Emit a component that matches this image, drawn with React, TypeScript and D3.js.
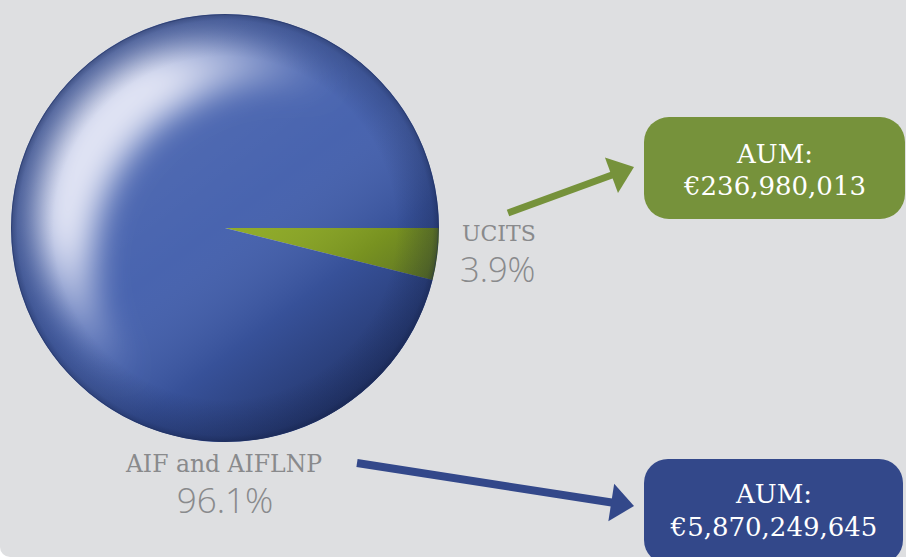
import React from 'react';
import * as d3 from 'd3';

const categories = ['UCITS', 'AIF and AIFLNP'];
const shares = [3.9, 96.1];
const shareLabels = ['3.9%', '96.1%'];
const aumLabels = ['€236,980,013', '€5,870,249,645'];
const sliceColors = ['#8ba81d', '#3f5cab'];
const boxColors = ['#76923b', '#33488a'];

const W = 906;
const H = 557;
const cx = 225;
const cy = 228;
const R = 214;

function Arrow({ x1, y1, x2, y2, width, headLen, headHalf, color }) {
  const dx = x2 - x1;
  const dy = y2 - y1;
  const len = Math.sqrt(dx * dx + dy * dy);
  const ux = dx / len;
  const uy = dy / len;
  const bx = x2 - ux * headLen;
  const by = y2 - uy * headLen;
  const px = -uy;
  const py = ux;
  const pts = [
    [x2, y2],
    [bx + px * headHalf, by + py * headHalf],
    [bx - px * headHalf, by - py * headHalf],
  ];
  return (
    <g>
      <line x1={x1} y1={y1} x2={bx + ux * 2} y2={by + uy * 2} stroke={color} strokeWidth={width} />
      <polygon points={pts.map((p) => p.join(',')).join(' ')} fill={color} />
    </g>
  );
}

export default function App() {
  const pie = d3
    .pie<number>()
    .sort(null)
    .value((d) => d)
    .startAngle(Math.PI / 2)
    .endAngle(Math.PI / 2 + Math.PI * 2);
  const arcs = pie(shares);
  const arc = d3.arc<d3.PieArcDatum<number>>().innerRadius(0).outerRadius(R);

  const serif = '"DejaVu Serif", serif';
  const sans = '"Open Sans", sans-serif';
  const gray = '#898a8c';

  return (
    <svg width={W} height={H} style={{ position: 'absolute', left: 0, top: 0 }}>
      <defs>
        <clipPath id="pieClip">
          <circle cx={cx} cy={cy} r={R} />
        </clipPath>
        <filter id="blur" filterUnits="userSpaceOnUse" x={0} y={0} width={W} height={H}>
          <feGaussianBlur stdDeviation="16" />
        </filter>
        <radialGradient
          id="hiFade"
          gradientUnits="userSpaceOnUse"
          cx={cx - 0.55 * R}
          cy={cy - 0.35 * R}
          r={1.1 * R}
        >
          <stop offset="0" stopColor="#fff" />
          <stop offset="0.4" stopColor="#fff" />
          <stop offset="1" stopColor="#000" />
        </radialGradient>
        <mask id="crescent" maskUnits="userSpaceOnUse" x="0" y="0" width={W} height={H}>
          <circle cx={cx - 0.05 * R} cy={cy - 0.05 * R} r={0.84 * R} fill="url(#hiFade)" />
          <circle cx={cx + 0.22 * R} cy={cy + 0.16 * R} r={0.84 * R} fill="#000" />
        </mask>
        <linearGradient id="shade" x1="0.2" y1="0.15" x2="0.8" y2="0.95">
          <stop offset="0" stopColor="#ffffff" stopOpacity="0.12" />
          <stop offset="0.45" stopColor="#ffffff" stopOpacity="0.05" />
          <stop offset="0.7" stopColor="#0b1433" stopOpacity="0.15" />
          <stop offset="1" stopColor="#0b1433" stopOpacity="0.58" />
        </linearGradient>
        <radialGradient id="rim" cx="0.5" cy="0.5" r="0.5">
          <stop offset="0.8" stopColor="#0b1433" stopOpacity="0" />
          <stop offset="0.97" stopColor="#0b1433" stopOpacity="0.22" />
          <stop offset="1" stopColor="#0b1433" stopOpacity="0.4" />
        </radialGradient>
      </defs>

      <path d={`M0,0H${W}V${H}H10A10,10 0 0 1 0,${H - 10}Z`} fill="#dedfe1" />

      <g transform={`translate(${cx},${cy})`}>
        {arcs.map((a, k) => (
          <path key={categories[k]} d={arc(a)} fill={sliceColors[k]} />
        ))}
      </g>
      <g clipPath="url(#pieClip)">
        <circle cx={cx} cy={cy} r={R} fill="url(#shade)" />
        <g filter="url(#blur)">
          <rect x={0} y={0} width={W} height={H} fill="#e8eaf8" opacity={0.95} mask="url(#crescent)" />
        </g>
        <circle cx={cx} cy={cy} r={R} fill="url(#rim)" />
      </g>
      <circle cx={cx} cy={cy} r={R - 0.5} fill="none" stroke="#22305f" strokeOpacity={0.45} strokeWidth={1} />

      <Arrow x1={508} y1={213} x2={634} y2={167} width={7} headLen={24} headHalf={19} color={boxColors[0]} />
      <Arrow x1={357} y1={463} x2={634} y2={506} width={8} headLen={23} headHalf={19} color={boxColors[1]} />

      <text x={462} y={241} fontFamily={serif} fontSize={22} fill={gray}>
        {categories[0]}
      </text>
      <text x={460} y={281.5} fontFamily={sans} fontWeight={300} fontSize={34.5} fill={gray}>
        {shareLabels[0]}
      </text>
      <text x={224} y={472} textAnchor="middle" fontFamily={serif} fontSize={23.5} fill={gray}>
        {categories[1]}
      </text>
      <text x={225} y={513} textAnchor="middle" fontFamily={sans} fontWeight={300} fontSize={35} fill={gray}>
        {shareLabels[1]}
      </text>

      <rect x={644} y={117} width={261} height={102} rx={25} fill={boxColors[0]} />
      <text x={775} y={163} textAnchor="middle" fontFamily={serif} fontSize={26} fill="#fff">
        AUM:
      </text>
      <text x={775} y={195} textAnchor="middle" fontFamily={serif} fontSize={26} fill="#fff">
        {aumLabels[0]}
      </text>

      <rect x={644} y={459} width={259} height={105} rx={24} fill={boxColors[1]} />
      <text x={774} y={503} textAnchor="middle" fontFamily={serif} fontSize={26} fill="#fff">
        AUM:
      </text>
      <text x={774} y={536} textAnchor="middle" fontFamily={serif} fontSize={26} fill="#fff">
        {aumLabels[1]}
      </text>
    </svg>
  );
}
